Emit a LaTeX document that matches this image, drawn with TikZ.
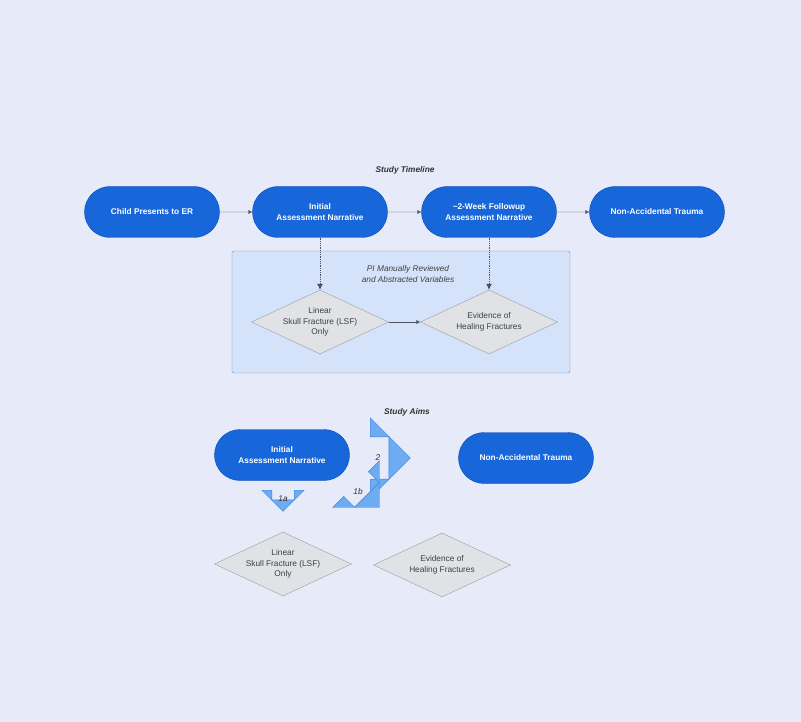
\documentclass[tikz,border=0pt]{standalone}
\usepackage{fontspec}
\setmainfont{Liberation Sans}
\usetikzlibrary{positioning, arrows.meta, shapes, backgrounds}
\definecolor{bgcol}{HTML}{E7EAF8}
\definecolor{pillfill}{HTML}{1766DA}
\definecolor{pilldraw}{HTML}{0B4DB3}
\definecolor{boxfill}{HTML}{D4E3FA}
\definecolor{boxdraw}{HTML}{7F8C9E}
\definecolor{dmfill}{HTML}{E1E2E6}
\definecolor{dmdraw}{HTML}{9A9CA3}
\definecolor{bigfill}{HTML}{6DABF3}
\definecolor{bigdraw}{HTML}{3C83E2}
\definecolor{linecol}{HTML}{4A5160}
\tikzset{
every node/.style = {font = \fontsize{8.3}{10.5}\selectfont},
pill/.style = {rounded rectangle, draw = pilldraw, fill = pillfill, text = white,
   font = \fontsize{8.3}{10.5}\selectfont\bfseries, minimum width = 139pt,
   minimum height = 51pt, align = center, inner sep = 2pt},
decision/.style = {diamond, draw = dmdraw, fill = dmfill, text = black!75,
   aspect = 2.15, minimum width = 137pt, minimum height = 64pt, inner sep = 0pt,
   align = center},
title/.style = {font = \fontsize{8.3}{10.5}\selectfont\bfseries\itshape, text = black!80},
flow/.style = {-{Latex[length = 4pt, width = 4pt]}, linecol, thin},
dotflow/.style = {-{Latex[length = 6pt, width = 6pt]}, linecol, densely dotted, thick},
bigarrow/.style = {single arrow, draw = bigdraw, fill = bigfill, inner xsep = 0pt,
   inner ysep = 11pt, single arrow head extend = 10pt, single arrow head indent = 0pt},
aim/.style = {font = \fontsize{8.3}{10.5}\selectfont\itshape, text = black!80}
}

\begin{document}
\begin{tikzpicture}[x = 1pt, y = -1pt]
\fill [bgcol] (0,0) rectangle (801,722);
\useasboundingbox (0,0) rectangle (801,722);

%% Study timeline
\node [title] (ttime) at (405,170) {Study Timeline};
\node [pill] (er) at (152,212) {Child Presents to ER};
\node [pill] (init) at (320,212) {Initial\\Assessment Narrative};
\node [pill] (follow) at (489,212) {\textasciitilde2-Week Followup\\Assessment Narrative};
\node [pill] (nat) at (657,212) {Non-Accidental Trauma};

\path [flow] (er) edge (init);
\path [flow] (init) edge (follow);
\path [flow] (follow) edge (nat);

%% Abstraction box
\node [draw = boxdraw, fill = boxfill, rounded corners = 2pt, minimum width = 338pt,
   minimum height = 122pt] (box) at (401,312) {};
\node [aim, align = center, text = black!75] (boxlab) at (408,274)
   {PI Manually Reviewed\\and Abstracted Variables};
\node [decision] (lsf) at (320,322) {Linear\\Skull Fracture (LSF)\\Only};
\node [decision] (heal) at (489,322) {Evidence of\\Healing Fractures};

\path [dotflow] (init.south) edge (lsf.north);
\path [dotflow] (follow.south) edge (heal.north);
\path [flow] (lsf) edge (heal);

%% Study aims
\node [title] (taims) at (407,412) {Study Aims};
\node [bigarrow, minimum width = 80pt] (a2) at (389,458) {};
\node [bigarrow, minimum width = 42pt, rotate = -90] (a1a) at (283,500) {};
\node [bigarrow, minimum width = 66pt, rotate = -45] (a1b) at (367,495) {};
\node [aim] at (378,458) {2};
\node [aim] at (283,499) {1a};
\node [aim] at (358,492) {1b};

\node [pill] (init2) at (282,455) {Initial\\Assessment Narrative};
\node [pill] (nat2) at (526,458) {Non-Accidental Trauma};
\node [decision] (lsf2) at (283,564) {Linear\\Skull Fracture (LSF)\\Only};
\node [decision] (heal2) at (442,565) {Evidence of\\Healing Fractures};

\end{tikzpicture}
\end{document}
